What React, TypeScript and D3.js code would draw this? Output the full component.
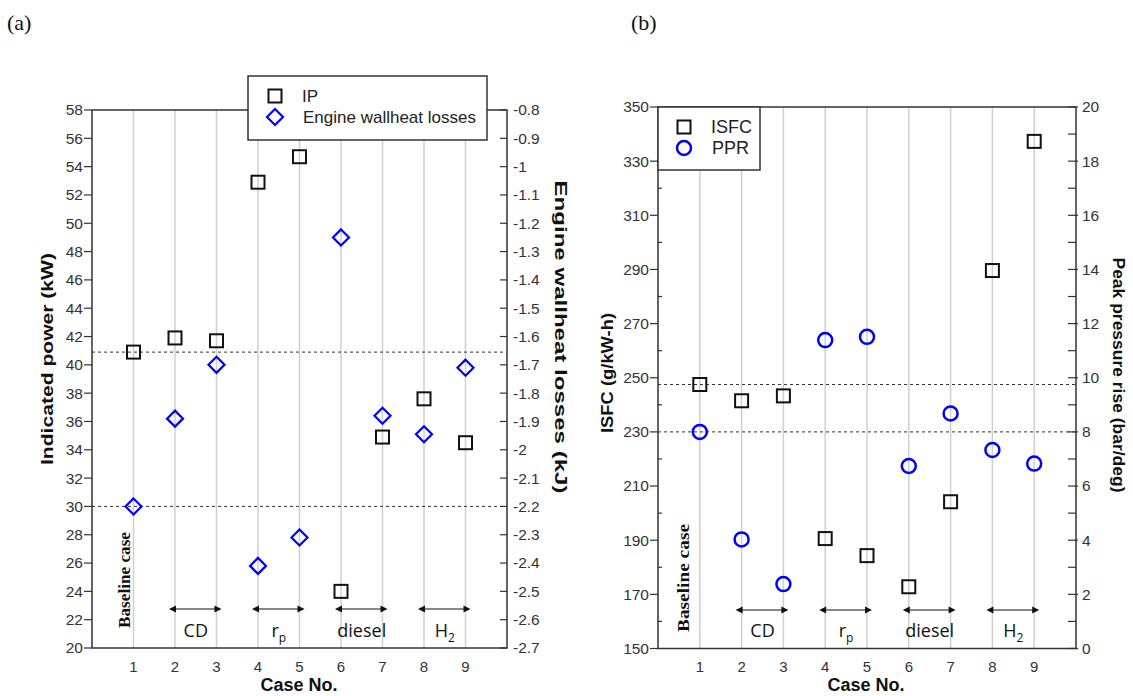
import React from 'react';
import * as d3 from 'd3';

const cases = [1, 2, 3, 4, 5, 6, 7, 8, 9];
const ipValues = [40.9, 41.9, 41.7, 52.9, 54.7, 24.0, 34.9, 37.6, 34.5];
const wallHeatValues = [-2.2, -1.89, -1.7, -2.41, -2.31, -1.25, -1.88, -1.945, -1.71];
const isfcValues = [247.5, 241.5, 243.3, 190.6, 184.3, 172.8, 204.2, 289.6, 337.3];
const pprValues = [8.0, 4.03, 2.38, 11.39, 11.51, 6.74, 8.68, 7.33, 6.83];

const ipTicks = d3.range(20, 59, 2);
const wallTicks = d3.range(-27, -7, 1).map((v) => v / 10);
const isfcTicks = d3.range(150, 351, 20);
const isfcMinor = d3.range(160, 350, 20);
const pprTicks = d3.range(0, 21, 2);
const pprMinor = d3.range(1, 20, 2);

const groups = [
  { label: 'CD', sub: '', from: 2, to: 3 },
  { label: 'r', sub: 'p', from: 4, to: 5 },
  { label: 'diesel', sub: '', from: 6, to: 7 },
  { label: 'H', sub: '2', from: 8, to: 9 },
];

const AX = '#333';
const BLUE = '#0000ff';
const SANS = 'Arial, "Liberation Sans", sans-serif';
const SERIF = '"Times New Roman", "Liberation Serif", serif';

const fmt = (v: number) => String(+v.toFixed(1));

function Square({ x, y }: { x: number; y: number }) {
  return <rect x={x - 6.5} y={y - 6.5} width={13} height={13} fill="none" stroke="#111" strokeWidth={2} />;
}
function Diamond({ x, y }: { x: number; y: number }) {
  const r = 8;
  return (
    <path d={`M${x},${y - r}L${x + r},${y}L${x},${y + r}L${x - r},${y}Z`} fill="none" stroke={BLUE} strokeWidth={2.2} />
  );
}
function Circle({ x, y }: { x: number; y: number }) {
  return <circle cx={x} cy={y} r={7} fill="none" stroke={BLUE} strokeWidth={2.5} />;
}

function Arrow({ x1, x2, y }: { x1: number; x2: number; y: number }) {
  const h = 7, w = 3.5;
  return (
    <g>
      <line x1={x1 + 2} x2={x2 - 2} y1={y} y2={y} stroke="#111" strokeWidth={1.2} />
      <path d={`M${x1},${y}L${x1 + h},${y - w}L${x1 + h},${y + w}Z`} fill="#111" />
      <path d={`M${x2},${y}L${x2 - h},${y - w}L${x2 - h},${y + w}Z`} fill="#111" />
    </g>
  );
}

function Annotations({ x, arrowY, textY, baseX, baseY, baseLen, baseSize }: any) {
  return (
    <g>
      <text
        transform={`translate(${baseX},${baseY}) rotate(-90)`}
        textAnchor="middle"
        fontFamily={SERIF}
        fontWeight="bold"
        fontSize={baseSize}
        textLength={baseLen}
        lengthAdjust="spacingAndGlyphs"
        fill="#111"
      >
        Baseline case
      </text>
      {groups.map((g) => {
        const mid = (x(g.from) + x(g.to)) / 2;
        return (
          <g key={g.label}>
            <Arrow x1={x(g.from) - 6} x2={x(g.to) + 5} y={arrowY} />
            <text x={mid} y={textY} textAnchor="middle" fontFamily='"Open Sans", "Noto Sans", sans-serif' fontSize={18} fill="#111">
              {g.label}
              {g.sub && (
                <tspan fontSize={12} dy={5}>
                  {g.sub}
                </tspan>
              )}
            </text>
          </g>
        );
      })}
    </g>
  );
}

function PanelA() {
  const L = 92, R = 507, T = 110, B = 648;
  const x = d3.scaleLinear().domain([0, 10]).range([L, R]);
  const yL = d3.scaleLinear().domain([20, 58]).range([B, T]);
  const yR = d3.scaleLinear().domain([-2.7, -0.8]).range([B, T]);
  return (
    <g>
      {cases.map((c) => (
        <line key={c} x1={x(c)} x2={x(c)} y1={T} y2={B} stroke="#cfcfcf" strokeWidth={1.5} />
      ))}
      <line x1={L} x2={R} y1={yL(ipValues[0])} y2={yL(ipValues[0])} stroke={AX} strokeWidth={1} strokeDasharray="3,3" />
      <line x1={L} x2={R} y1={yR(wallHeatValues[0])} y2={yR(wallHeatValues[0])} stroke={AX} strokeWidth={1} strokeDasharray="3,3" />
      <rect x={L} y={T} width={R - L} height={B - T} fill="none" stroke={AX} strokeWidth={1.5} />
      {ipTicks.map((t) => (
        <g key={t}>
          <line x1={L - 8} x2={L} y1={yL(t)} y2={yL(t)} stroke={AX} strokeWidth={1.2} />
          <text x={L - 9} y={yL(t)} dy="0.35em" textAnchor="end" fontFamily={SANS} fontSize={15.5} fill={AX}>
            {t}
          </text>
        </g>
      ))}
      {wallTicks.map((t) => (
        <g key={t}>
          <line x1={R - 7} x2={R} y1={yR(t)} y2={yR(t)} stroke={AX} strokeWidth={1.2} />
          <text x={R + 6} y={yR(t)} dy="0.35em" textAnchor="start" fontFamily={SANS} fontSize={15.5} fill={AX}>
            {fmt(t)}
          </text>
        </g>
      ))}
      {cases.map((c) => (
        <text key={c} x={x(c)} y={672} textAnchor="middle" fontFamily={SANS} fontSize={15} fill={AX}>
          {c}
        </text>
      ))}
      <text x={299} y={691} textAnchor="middle" fontFamily={SANS} fontWeight="bold" fontSize={18} fill="#111">
        Case No.
      </text>
      <text
        transform={`translate(53,359) rotate(-90)`}
        textAnchor="middle"
        fontFamily={SANS}
        fontWeight="bold"
        fontSize={16.5}
        textLength={212}
        lengthAdjust="spacingAndGlyphs"
        fill="#111"
      >
        Indicated power (kW)
      </text>
      <text
        transform={`translate(555,337) rotate(90)`}
        textAnchor="middle"
        fontFamily={SANS}
        fontWeight="bold"
        fontSize={16.5}
        textLength={313}
        lengthAdjust="spacingAndGlyphs"
        fill="#111"
      >
        Engine wallheat losses (kJ)
      </text>
      <Annotations x={x} arrowY={609} textY={637} baseX={130} baseY={580} baseLen={96} baseSize={16} />
      {cases.map((c, i) => (
        <Diamond key={'d' + c} x={x(c)} y={yR(wallHeatValues[i])} />
      ))}
      {cases.map((c, i) => (
        <Square key={'s' + c} x={x(c)} y={yL(ipValues[i])} />
      ))}
      <rect x={248} y={76} width={239} height={64} fill="#fff" stroke={AX} strokeWidth={1.5} />
      <Square x={275} y={96} />
      <Diamond x={275} y={117} />
      <text x={302} y={102} fontFamily={SANS} fontSize={17} fill="#222">IP</text>
      <text x={303} y={123} fontFamily={SANS} fontSize={17} fill="#222">Engine wallheat losses</text>
    </g>
  );
}

function PanelB() {
  const L = 658, R = 1076, T = 107, B = 648.5;
  const x = d3.scaleLinear().domain([0, 10]).range([L, R]);
  const yL = d3.scaleLinear().domain([150, 350]).range([B, T]);
  const yR = d3.scaleLinear().domain([0, 20]).range([B, T]);
  return (
    <g>
      {cases.map((c) => (
        <line key={c} x1={x(c)} x2={x(c)} y1={T} y2={B} stroke="#cfcfcf" strokeWidth={1.5} />
      ))}
      <line x1={L} x2={R} y1={yL(isfcValues[0])} y2={yL(isfcValues[0])} stroke={AX} strokeWidth={1} strokeDasharray="3,3" />
      <line x1={L} x2={R} y1={yR(pprValues[0])} y2={yR(pprValues[0])} stroke={AX} strokeWidth={1} strokeDasharray="3,3" />
      <rect x={L} y={T} width={R - L} height={B - T} fill="none" stroke={AX} strokeWidth={1.5} />
      {isfcTicks.map((t) => (
        <g key={t}>
          <line x1={L - 8} x2={L} y1={yL(t)} y2={yL(t)} stroke={AX} strokeWidth={1.2} />
          <text x={L - 9} y={yL(t)} dy="0.35em" textAnchor="end" fontFamily={SANS} fontSize={15.5} fill={AX}>
            {t}
          </text>
        </g>
      ))}
      {isfcMinor.map((t) => (
        <line key={t} x1={L} x2={L + 4} y1={yL(t)} y2={yL(t)} stroke={AX} strokeWidth={1.2} />
      ))}
      {pprTicks.map((t) => (
        <g key={t}>
          <line x1={R - 8} x2={R + 2} y1={yR(t)} y2={yR(t)} stroke={AX} strokeWidth={1.2} />
          <text x={R + 6} y={yR(t)} dy="0.35em" textAnchor="start" fontFamily={SANS} fontSize={15.5} fill={AX}>
            {t}
          </text>
        </g>
      ))}
      {pprMinor.map((t) => (
        <line key={t} x1={R - 8} x2={R} y1={yR(t)} y2={yR(t)} stroke={AX} strokeWidth={1.2} />
      ))}
      {cases.map((c) => (
        <text key={c} x={x(c)} y={672} textAnchor="middle" fontFamily={SANS} fontSize={15} fill={AX}>
          {c}
        </text>
      ))}
      <text x={866} y={691} textAnchor="middle" fontFamily={SANS} fontWeight="bold" fontSize={18} fill="#111">
        Case No.
      </text>
      <text
        transform={`translate(613,373) rotate(-90)`}
        textAnchor="middle"
        fontFamily={SANS}
        fontWeight="bold"
        fontSize={17}
        textLength={120}
        lengthAdjust="spacingAndGlyphs"
        fill="#111"
      >
        ISFC (g/kW-h)
      </text>
      <text
        transform={`translate(1113,375) rotate(90)`}
        textAnchor="middle"
        fontFamily={SANS}
        fontWeight="bold"
        fontSize={17}
        textLength={235}
        lengthAdjust="spacingAndGlyphs"
        fill="#111"
      >
        Peak pressure rise (bar/deg)
      </text>
      <Annotations x={x} arrowY={610} textY={637} baseX={689} baseY={578} baseLen={108} baseSize={17} />
      {cases.map((c, i) => (
        <Circle key={'c' + c} x={x(c)} y={yR(pprValues[i])} />
      ))}
      {cases.map((c, i) => (
        <Square key={'s' + c} x={x(c)} y={yL(isfcValues[i])} />
      ))}
      <rect x={L} y={T} width={102} height={63} fill="#fff" stroke={AX} strokeWidth={1.5} />
      <Square x={684} y={127} />
      <Circle x={684} y={148} />
      <text x={711} y={133} fontFamily={SANS} fontSize={18} fill="#222">ISFC</text>
      <text x={712} y={154} fontFamily={SANS} fontSize={18} fill="#222">PPR</text>
    </g>
  );
}

export default function App() {
  return (
    <svg
      width={1133}
      height={696}
      viewBox="0 0 1133 696"
      style={{ position: 'absolute', left: 0, top: 0, display: 'block', background: '#fff' }}
    >
      <rect x={0} y={0} width={1133} height={696} fill="#fff" />
      <text x={7} y={30} fontFamily={SERIF} fontSize={22} fill="#111">(a)</text>
      <text x={631} y={30} fontFamily={SERIF} fontSize={22} fill="#111">(b)</text>
      <PanelA />
      <PanelB />
    </svg>
  );
}
